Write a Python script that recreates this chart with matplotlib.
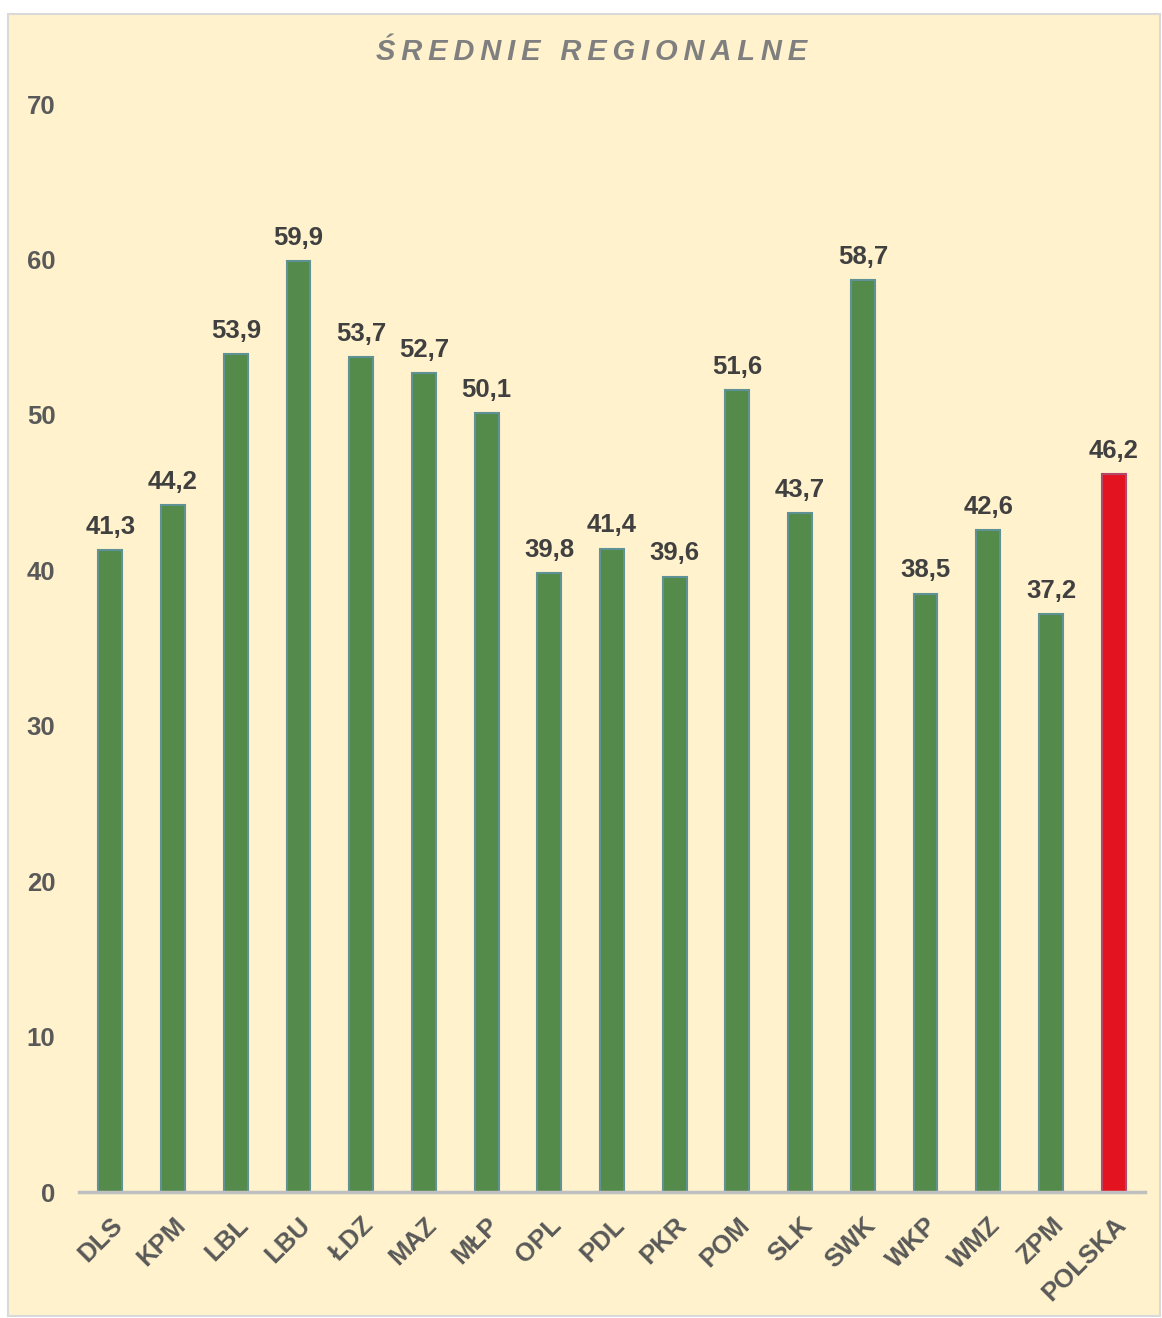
import matplotlib
matplotlib.use("Agg")
import matplotlib.pyplot as plt
from matplotlib.patches import Rectangle

categories = ["DLS", "KPM", "LBL", "LBU", "ŁDZ", "MAZ", "MŁP", "OPL", "PDL", "PKR",
              "POM", "SLK", "SWK", "WKP", "WMZ", "ZPM", "POLSKA"]
values = [41.3, 44.2, 53.9, 59.9, 53.7, 52.7, 50.1, 39.8, 41.4, 39.6,
          51.6, 43.7, 58.7, 38.5, 42.6, 37.2, 46.2]
yticks = [0, 10, 20, 30, 40, 50, 60, 70]
title = "ŚREDNIE REGIONALNE"

plt.rcParams['font.family'] = ['Liberation Sans', 'DejaVu Sans']

fig = plt.figure(figsize=(11.62, 13.18), dpi=100)
fig.patch.set_facecolor('white')
bg = '#FFF2CC'
fig.patches.append(Rectangle((8/1162, 2/1318), 1152/1162, 1302/1318, transform=fig.transFigure,
                             facecolor=bg, edgecolor='#D9D9D9', linewidth=1.5, zorder=-10))

ax = fig.add_axes([79/1162, 1 - 1192/1318, (1145-79)/1162, (1192-104)/1318])
ax.set_facecolor('none')
ax.set_zorder(1)

x = list(range(len(categories)))
face = ['#548A4A'] * (len(categories) - 1) + ['#E3141F']
edge = ['#5F9294'] * (len(categories) - 1) + ['#B3486A']
bars = ax.bar(x, values, width=0.38, color=face, edgecolor=edge, linewidth=1.5, zorder=2)

fs = 18.5
for xi, v in zip(x, values):
    ax.annotate(f"{v:.1f}".replace('.', ','), (xi, v), xytext=(0, 8), textcoords='offset points',
                ha='center', va='bottom', fontsize=fs, fontweight='bold', color='#404040')

ax.set_xlim(-0.5, len(categories) - 0.5)
ax.set_ylim(0, 70)
ax.set_yticks(yticks)
ax.set_yticklabels([str(t) for t in yticks], fontsize=fs, fontweight='bold', color='#595959')
ax.set_xticks(x)
ax.set_xticklabels(categories, rotation=45, ha='right', va='top', rotation_mode='anchor',
                   fontsize=fs, fontweight='bold', color='#595959')
ax.tick_params(axis='both', length=0)
ax.tick_params(axis='y', pad=17)
ax.tick_params(axis='x', pad=15)
for s in ['top', 'right', 'left']:
    ax.spines[s].set_visible(False)
ax.spines['bottom'].set_color('#BFBFBF')
ax.spines['bottom'].set_linewidth(2.5)

spaced = '\u2009'.join(title)
fig.text(592/1162, 1 - 52/1318, spaced, ha='center', va='center', fontsize=21,
         fontweight='bold', fontstyle='italic', color='#7F7F7F',
         family=['Liberation Sans', 'DejaVu Sans'])

fig.savefig('out.png', dpi=100, facecolor=fig.get_facecolor())
